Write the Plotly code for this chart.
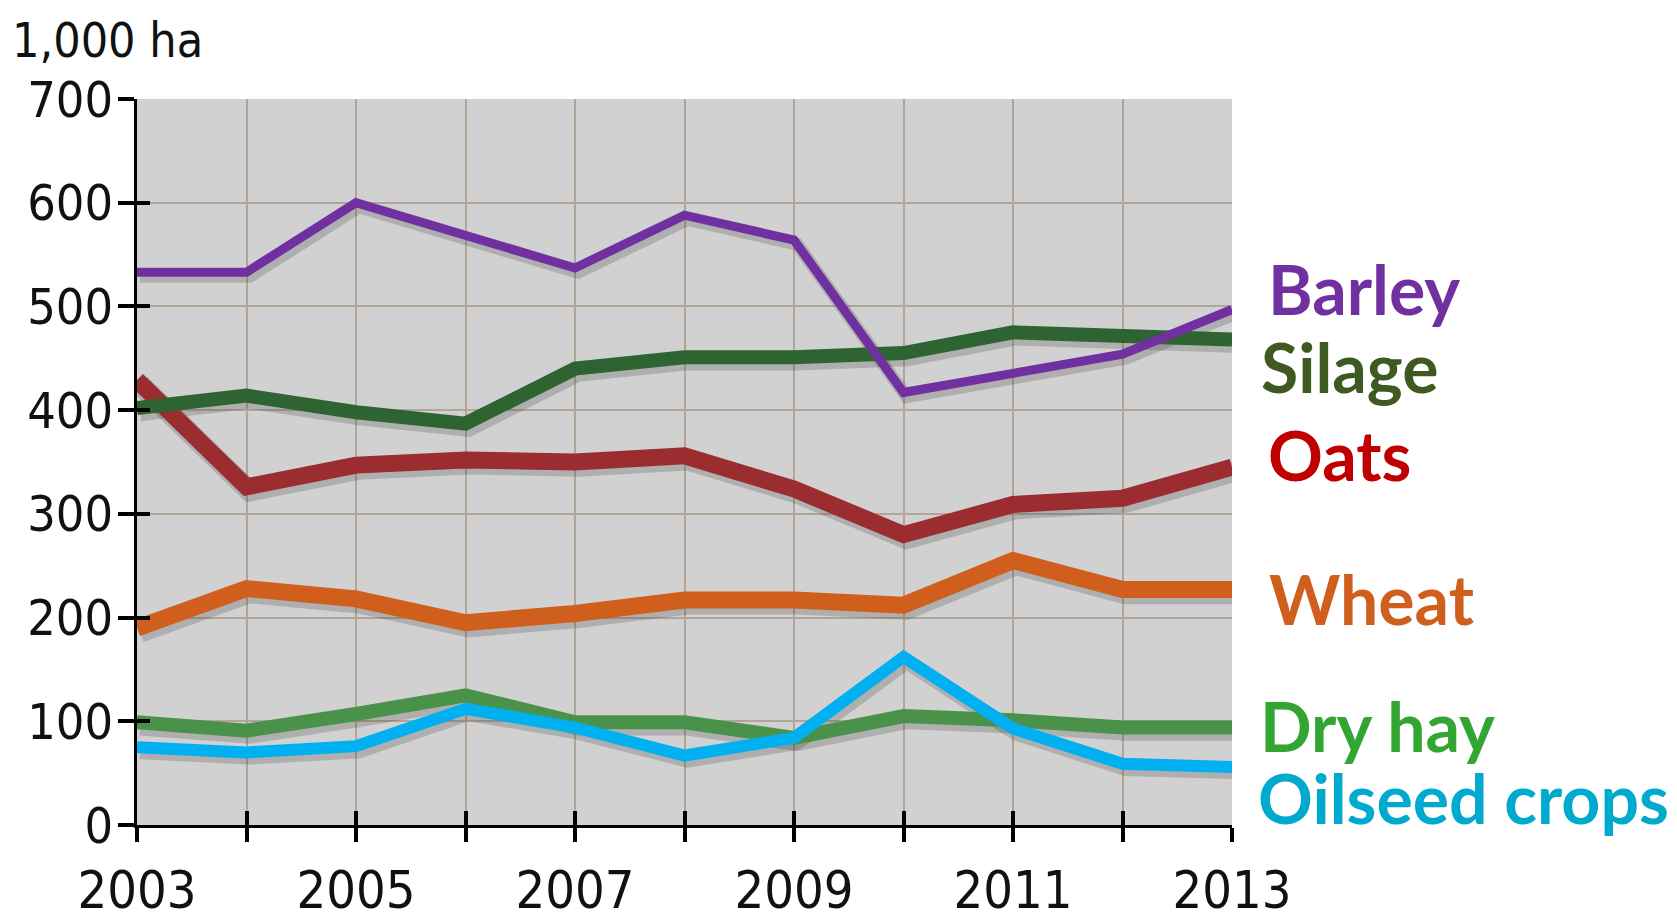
import plotly.graph_objects as go

years = list(range(2003, 2014))
barley = [533, 533, 600, 569, 537, 588, 564, 417, 435, 454, 497]
silage = [402, 414, 398, 387, 440, 451, 451, 455, 475, 472, 468]
oats = [429, 326, 347, 352, 350, 356, 324, 280, 309, 315, 345]
wheat = [190, 228, 218, 195, 204, 217, 217, 212, 255, 227, 227]
dry_hay = [99, 91, 107, 125, 99, 99, 84, 105, 101, 94, 94]
oilseed = [75, 70, 76, 112, 94, 67, 84, 162, 93, 59, 56]

# name, values, line colour, line width, label colour, label y, label x shift (px)
series = [
    ("Barley", barley, "#7030A0", 9, "#7030A0", 517, 10),
    ("Silage", silage, "#2E6332", 14, "#3E5A22", 442, 3),
    ("Oats", oats, "#9B2D30", 17, "#C00000", 357, 10),
    ("Wheat", wheat, "#D05F1E", 17, "#D05F1E", 218, 11),
    ("Dry hay", dry_hay, "#4A924A", 14, "#33A532", 96, 2),
    ("Oilseed crops", oilseed, "#00B0F0", 12, "#00AACF", 27, 0),
]
draw_order = ["Dry hay", "Oilseed crops", "Wheat", "Oats", "Silage", "Barley"]
lookup = {s[0]: s for s in series}

NARROW = "Liberation Sans Narrow, DejaVu Sans Condensed, Roboto Condensed, Arial Narrow, sans-serif"

fig = go.Figure()
# shadows (on shifted overlay axes x2/y2)
for name in draw_order:
    n, vals, col, w, tcol, ly, xs = lookup[name]
    fig.add_trace(go.Scatter(x=years, y=vals, mode="lines", xaxis="x2", yaxis="y2",
                             line=dict(color="rgba(40,40,40,0.2)", width=w + 4),
                             showlegend=False, hoverinfo="skip"))
# main lines (on overlay axes x3/y3 with real range)
for name in draw_order:
    n, vals, col, w, tcol, ly, xs = lookup[name]
    fig.add_trace(go.Scatter(x=years, y=vals, mode="lines", name=n, xaxis="x3", yaxis="y3",
                             line=dict(color=col, width=w), showlegend=False,
                             hoverinfo="skip"))
# base axes trace (invisible)
fig.add_trace(go.Scatter(x=[2003], y=[0], mode="markers", marker=dict(opacity=0),
                         showlegend=False, hoverinfo="skip"))

for n, vals, col, w, tcol, ly, xs in series:
    fig.add_annotation(x=1.022, xref="paper", y=ly, yref="y", text=f"<b>{n}</b>",
                       showarrow=False, xanchor="left", yanchor="middle", xshift=xs,
                       font=dict(family="Lato, Open Sans, sans-serif", size=68, color=tcol))

fig.add_annotation(x=-0.116, xref="paper", y=1.081, yref="paper", text="1,000 ha",
                   showarrow=False, xanchor="left", yanchor="middle",
                   font=dict(family=NARROW, size=48, color="#111"))

tickfont_y = dict(family=NARROW, size=50, color="#111")
tickfont_x = dict(family=NARROW, size=52, color="#111")

hidden = dict(showticklabels=False, showgrid=False, zeroline=False, showline=False, ticks="")

fig.update_layout(
    width=1669, height=911,
    margin=dict(l=129, r=445, t=91, b=94),
    paper_bgcolor="white", plot_bgcolor="#D1D1D1",
    xaxis=dict(range=[2003, 2013], tickvals=list(range(2003, 2014)),
               ticktext=[str(y) if (y - 2003) % 2 == 0 else "" for y in years],
               showgrid=True, gridcolor="#B2A597", gridwidth=2,
               showline=True, linecolor="black", linewidth=3,
               ticks="outside", ticklen=14, tickwidth=4, tickcolor="black",
               tickfont=tickfont_x, zeroline=False, ticklabelstandoff=4, automargin=False),
    yaxis=dict(range=[0, 700], tickvals=list(range(0, 701, 100)),
               showgrid=True, gridcolor="#B2A597", gridwidth=2,
               showline=True, linecolor="black", linewidth=3,
               ticks="outside", ticklen=16, tickwidth=4, tickcolor="black",
               tickfont=tickfont_y, zeroline=False, automargin=False,
               ticklabelstandoff=-5),
    xaxis2=dict(range=[2002.972, 2012.972], overlaying="x", **hidden),
    yaxis2=dict(range=[4, 704], overlaying="y", side="left", **hidden),
    xaxis3=dict(range=[2003, 2013], overlaying="x", tickvals=list(range(2003, 2014)),
                showticklabels=False, showgrid=False, ticks="inside", ticklen=14,
                tickwidth=4, tickcolor="black", zeroline=False, showline=False),
    yaxis3=dict(range=[0, 700], overlaying="y", tickvals=list(range(0, 701, 100)),
                showticklabels=False, showgrid=False, ticks="inside", ticklen=13,
                tickwidth=4, tickcolor="black", zeroline=False, showline=False,
                side="left"),
)

fig.write_html("out.html")
